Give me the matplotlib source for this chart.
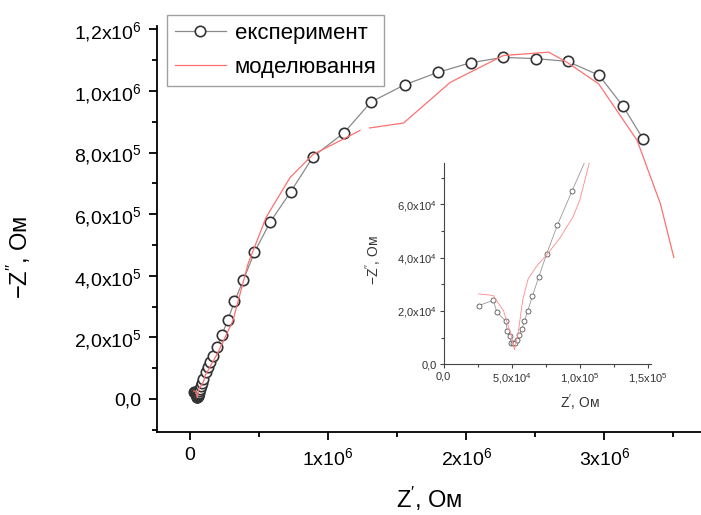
import numpy as np
import matplotlib
matplotlib.use("Agg")
import matplotlib.pyplot as plt
from matplotlib.ticker import FixedLocator, MultipleLocator

plt.rcParams["font.family"] = ["Liberation Sans", "DejaVu Sans"]
plt.rcParams["mathtext.fontset"] = "custom"
plt.rcParams["mathtext.rm"] = "Liberation Sans"
plt.rcParams["mathtext.it"] = "Liberation Sans:italic"

# low-frequency arc (inset range), Ohm
exp_small_re = [25.7e3, 36.5e3, 39.0e3, 45.6e3, 46.6e3, 48.5e3, 49.5e3, 51.0e3, 52.2e3, 53.9e3,
                55.6e3, 57.4e3, 59.3e3, 61.8e3, 65.2e3, 69.9e3, 75.7e3, 83.6e3, 94.4e3]
exp_small_im = [22.0e3, 24.0e3, 19.6e3, 16.1e3, 12.6e3, 10.6e3, 8.1e3, 7.9e3, 8.1e3, 9.1e3,
                10.9e3, 13.1e3, 16.1e3, 20.1e3, 25.6e3, 32.8e3, 41.5e3, 52.3e3, 65.2e3]
# rest of the measured spectrum
exp_big_re = [0.114e6, 0.128e6, 0.145e6, 0.165e6, 0.192e6, 0.229e6, 0.273e6, 0.321e6, 0.386e6,
              0.466e6, 0.580e6, 0.727e6, 0.891e6, 1.116e6, 1.309e6, 1.553e6, 1.792e6, 2.034e6,
              2.268e6, 2.502e6, 2.734e6, 2.961e6, 3.133e6, 3.280e6]
exp_big_im = [0.88e5, 1.05e5, 1.21e5, 1.41e5, 1.68e5, 2.07e5, 2.57e5, 3.17e5, 3.87e5,
              4.77e5, 5.75e5, 6.72e5, 7.87e5, 8.65e5, 9.64e5, 10.2e5, 10.6e5, 10.92e5,
              11.09e5, 11.05e5, 10.96e5, 10.51e5, 9.52e5, 8.45e5]

model_small_re = [25.7e3, 36.3e3, 44.0e3, 49.8e3, 52.0e3, 54.7e3, 58.0e3, 62.0e3, 68.1e3,
                  76.7e3, 85.3e3, 95.1e3, 100.0e3, 106.9e3]
model_small_im = [26.4e3, 25.8e3, 20.0e3, 10.4e3, 5.4e3, 11.6e3, 24.0e3, 32.0e3, 36.7e3,
                  41.7e3, 47.3e3, 55.4e3, 61.7e3, 75.4e3]
model_big_re = [0.20e6, 0.31e6, 0.42e6, 0.55e6, 0.725e6, 0.89e6, 1.136e6, 1.23e6, np.nan,
                1.30e6, 1.546e6, 1.884e6, 2.268e6, 2.597e6, 2.73e6, 2.959e6, 3.237e6,
                3.406e6, 3.503e6]
model_big_im = [1.50e5, 2.55e5, 4.40e5, 5.90e5, 7.20e5, 7.94e5, 8.50e5, 8.72e5, np.nan,
                8.80e5, 8.96e5, 10.28e5, 11.15e5, 11.26e5, 10.93e5, 10.23e5, 8.40e5,
                6.34e5, 4.60e5]

exp_re = exp_small_re + exp_big_re
exp_im = exp_small_im + exp_big_im
model_re = model_small_re + model_big_re
model_im = model_small_im + model_big_im

x_ticks = [0, 1e6, 2e6, 3e6]
x_labels = ["0", "1x10$^6$", "2x10$^6$", "3x10$^6$"]
y_ticks = [0, 2e5, 4e5, 6e5, 8e5, 1.0e6, 1.2e6]
y_labels = ["0,0", "2,0x10$^5$", "4,0x10$^5$", "6,0x10$^5$", "8,0x10$^5$",
            "1,0x10$^6$", "1,2x10$^6$"]
ins_x_ticks = [0, 5e4, 1e5, 1.5e5]
ins_x_labels = ["0,0", "5,0x10$^4$", "1,0x10$^5$", "1,5x10$^5$"]
ins_y_ticks = [0, 2e4, 4e4, 6e4]
ins_y_labels = ["0,0", "2,0x10$^4$", "4,0x10$^4$", "6,0x10$^4$"]

grey = "#8a8a8a"
red = "#ff7070"

fig = plt.figure(figsize=(7.01, 5.15), dpi=100)
ax = fig.add_axes([0.224, 0.161, 0.776, 0.788])

ax.plot(exp_re, exp_im, color=grey, lw=0.9, marker="o", ms=7.5, mfc="white",
        mec="#333333", mew=1.2, label="експеримент", zorder=2)
ax.plot(model_re, model_im, color=red, lw=0.9, label="моделювання", zorder=3)

ax.set_xlim(-0.24e6, 3.70e6)
ax.set_ylim(-1.07e5, 1.21e6)
for s in ("top", "right"):
    ax.spines[s].set_visible(False)
for s in ("left", "bottom"):
    ax.spines[s].set_linewidth(1.3)
ax.xaxis.set_major_locator(FixedLocator(x_ticks))
ax.set_xticklabels(x_labels)
ax.xaxis.set_minor_locator(MultipleLocator(0.5e6))
ax.yaxis.set_major_locator(FixedLocator(y_ticks))
ax.set_yticklabels(y_labels)
ax.yaxis.set_minor_locator(MultipleLocator(1e5))
ax.tick_params(which="major", direction="out", length=6, width=1.3, labelsize=14, pad=5)
ax.tick_params(which="minor", direction="out", length=3.5, width=1.3)

ax.set_xlabel("Z$^\\prime$, Ом", fontsize=17)
ax.xaxis.set_label_coords(0.5, -0.13)
ax.set_ylabel("$-$Z$^{\\prime\\prime}$, Ом", fontsize=17)
ax.yaxis.set_label_coords(-0.228, 0.43)

ax.legend(loc="upper left", bbox_to_anchor=(0.238, 0.971), bbox_transform=fig.transFigure,
          borderaxespad=0, fontsize=16, frameon=True, fancybox=False, edgecolor="#888888",
          handlelength=2.3, handletextpad=0.4, borderpad=0.35, labelspacing=0.6)

# inset: zoom on the low-impedance region
ins = fig.add_axes([0.633, 0.293, 0.295, 0.39])
ins.patch.set_alpha(0)
ins.plot(exp_re, exp_im, color="#999999", lw=0.6, marker="o", ms=3.6, mfc="white",
         mec="#555555", mew=0.6, zorder=2)
ins.plot(model_re, model_im, color="#ff8888", lw=0.6, zorder=3)
ins.set_xlim(0, 1.52e5)
ins.set_ylim(0, 7.55e4)
for s in ("top", "right"):
    ins.spines[s].set_visible(False)
for s in ("left", "bottom"):
    ins.spines[s].set_linewidth(0.8)
    ins.spines[s].set_color("#444444")
ins.xaxis.set_major_locator(FixedLocator(ins_x_ticks))
ins.set_xticklabels(ins_x_labels)
ins.xaxis.set_minor_locator(MultipleLocator(2.5e4))
ins.yaxis.set_major_locator(FixedLocator(ins_y_ticks))
ins.set_yticklabels(ins_y_labels)
ins.yaxis.set_minor_locator(MultipleLocator(1e4))
ins.tick_params(which="major", direction="out", length=3, width=0.8, labelsize=8, pad=2,
                color="#444444", labelcolor="#333333")
ins.tick_params(which="minor", direction="out", length=2, width=0.8, color="#444444")
ins.set_xlabel("Z$^\\prime$, Ом", fontsize=10, color="#333333")
ins.xaxis.set_label_coords(0.66, -0.14)
ins.set_ylabel("$-$Z$^{\\prime\\prime}$, Ом", fontsize=10, color="#333333")
ins.yaxis.set_label_coords(-0.29, 0.52)

fig.savefig("out.png", dpi=100)
